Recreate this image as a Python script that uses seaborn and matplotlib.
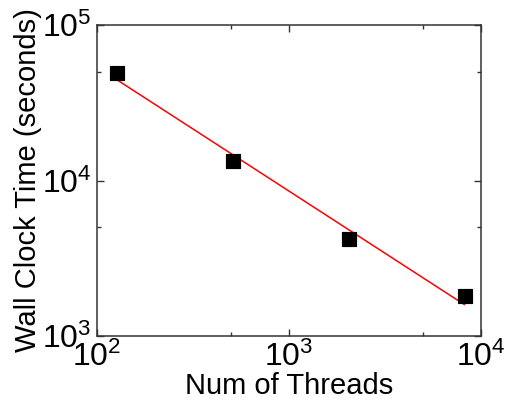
import numpy as np
import pandas as pd
import seaborn as sns
import matplotlib
matplotlib.use("Agg")
import matplotlib.pyplot as plt
from matplotlib.ticker import LogLocator, NullFormatter

threads = [128, 512, 2048, 8192]
wall_time = [49000, 13400, 4200, 1800]

sns.set_theme(style="ticks")
plt.rcParams['font.family'] = ['Liberation Sans', 'DejaVu Sans']
plt.rcParams['mathtext.fontset'] = 'custom'
plt.rcParams['mathtext.rm'] = 'Liberation Sans'
plt.rcParams['mathtext.it'] = 'Liberation Sans:italic'
plt.rcParams['text.color'] = 'black'
plt.rcParams['axes.labelcolor'] = 'black'
plt.rcParams['xtick.labelcolor'] = 'black'
plt.rcParams['ytick.labelcolor'] = 'black'

df = pd.DataFrame({"threads": threads, "time": wall_time})
# power-law least squares fit
coef = np.polyfit(np.log10(df["threads"]), np.log10(df["time"]), 1)
fit = pd.DataFrame({"threads": df["threads"],
                    "time": 10 ** np.polyval(coef, np.log10(df["threads"]))})

fig = plt.figure(figsize=(5.07, 4.08), dpi=100)
ax = fig.add_axes([0.191, 0.176, 0.758, 0.763])
ax.set_xscale("log")
ax.set_yscale("log")
sns.lineplot(data=fit, x="threads", y="time", ax=ax, color="red", lw=1.1)
sns.scatterplot(data=df, x="threads", y="time", ax=ax, marker="s", s=110,
                color="black", edgecolor="black", zorder=3)

ax.set_xlim(100, 10000)
ax.set_ylim(1000, 100000)
for a in (ax.xaxis, ax.yaxis):
    a.set_major_locator(LogLocator(base=10, numticks=10))
    a.set_minor_locator(LogLocator(base=10, subs=[5], numticks=10))
    a.set_minor_formatter(NullFormatter())
ax.tick_params(which="both", direction="in", top=True, right=True,
               color="#333333", width=1, labelcolor="black")
ax.tick_params(which="major", length=5, labelsize=23, pad=4)
ax.tick_params(which="minor", length=3)
for s in ax.spines.values():
    s.set_color("#333333")
    s.set_linewidth(1.1)
ax.set_xlabel("Num of Threads", fontsize=21, labelpad=-1, color="black")
ax.set_ylabel("Wall Clock Time (seconds)", fontsize=21, labelpad=0, color="black")
fig.savefig("out.png", dpi=100)
